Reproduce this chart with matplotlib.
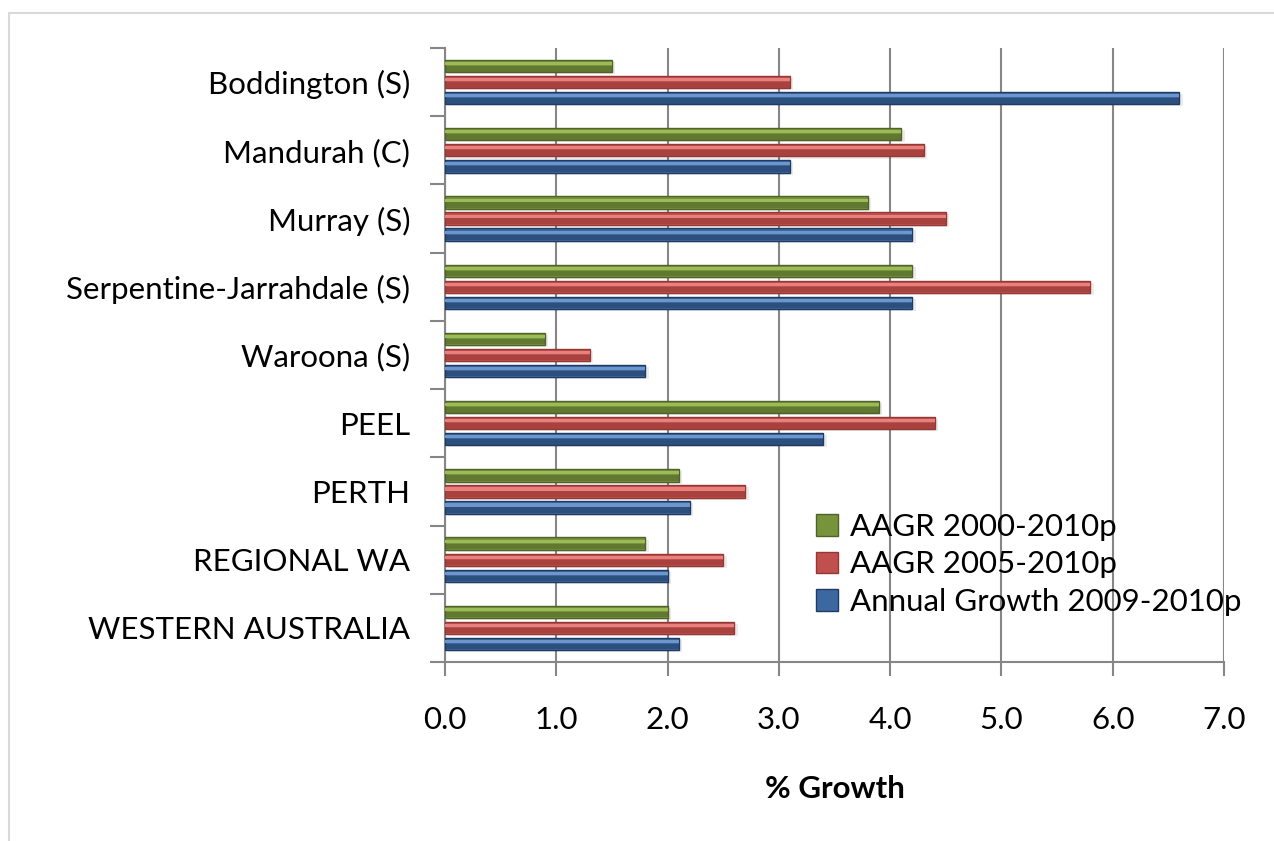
import matplotlib
matplotlib.use('Agg')
import matplotlib.pyplot as plt
import numpy as np
from matplotlib.patches import Rectangle

# data
regions = ['Boddington (S)', 'Mandurah (C)', 'Murray (S)', 'Serpentine-Jarrahdale (S)',
           'Waroona (S)', 'PEEL', 'PERTH', 'REGIONAL WA', 'WESTERN AUSTRALIA']
aagr_2000_2010 = [1.5, 4.1, 3.8, 4.2, 0.9, 3.9, 2.1, 1.8, 2.0]
aagr_2005_2010 = [3.1, 4.3, 4.5, 5.8, 1.3, 4.4, 2.7, 2.5, 2.6]
annual_2009_2010 = [6.6, 3.1, 4.2, 4.2, 1.8, 3.4, 2.2, 2.0, 2.1]
series_names = ['AAGR 2000-2010p', 'AAGR 2005-2010p', 'Annual Growth 2009-2010p']
xticks = [0, 1, 2, 3, 4, 5, 6, 7]

# dark / light shades for the bevel look
dark = ['#4f6228', '#953735', '#1f3b63']
mid = ['#77933c', '#c0504d', '#3d689f']
light = ['#9bbb59', '#e8807d', '#6d97cc']

plt.rcParams['font.family'] = ['Lato', 'DejaVu Sans']
fs = 22.5

fig = plt.figure(figsize=(12.74, 8.41), dpi=100)
ax = fig.add_axes([445 / 1274, 1 - 662 / 841, 779 / 1274, 614 / 841])

# light chart-area border (cut off at right/bottom in the original)
fig.patches.append(Rectangle((9 / 1274, -0.1), 1.2, 1 - 13 / 841 + 0.1,
                             transform=fig.transFigure, fill=False,
                             edgecolor='#d9d9d9', lw=1.5))

y = np.arange(len(regions))
step = 0.235
h = 0.18
all_series = [aagr_2000_2010, aagr_2005_2010, annual_2009_2010]
handles = []
for i, vals in enumerate(all_series):
    pos = y + (i - 1) * step
    # soft shadow
    ax.barh(pos + 0.03, vals, height=h, left=0.03, color='#000000', alpha=0.08, zorder=2)
    b = ax.barh(pos, vals, height=h, color=mid[i], edgecolor=dark[i], lw=1.0, zorder=3)
    ax.barh(pos + h * 0.22, vals, height=h * 0.45, color=dark[i], lw=0, alpha=0.55, zorder=4)
    ax.barh(pos - h * 0.2, vals, height=h * 0.25, color=light[i], lw=0, zorder=4)
    handles.append(b)

ax.set_xlim(0, 7)
ax.set_ylim(len(regions) - 0.5, -0.5)

ax.set_xticks(xticks)
ax.set_xticklabels(['%.1f' % t for t in xticks], fontsize=fs)
ax.tick_params(axis='x', length=10, width=1.5, color='#868686', pad=22)
ax.set_yticks(y)
ax.set_yticklabels(regions, fontsize=fs)
ax.set_yticks(np.arange(len(regions) + 1) - 0.5, minor=True)
ax.tick_params(axis='y', which='major', length=0, pad=25)
ax.tick_params(axis='y', which='minor', length=11, width=1.5, color='#868686')

ax.grid(axis='x', color='#868686', lw=1.5, zorder=0)
ax.set_axisbelow(True)
for s in ['top', 'right']:
    ax.spines[s].set_visible(False)
for s in ['left', 'bottom']:
    ax.spines[s].set_color('#868686')
    ax.spines[s].set_linewidth(1.5)

ax.set_xlabel('% Growth', fontsize=fs, fontweight='bold', labelpad=29)

leg = ax.legend(handles, series_names, loc='upper left', bbox_to_anchor=(0.46, 0.263),
                frameon=False, fontsize=fs, handlelength=0.7, handleheight=0.7,
                handletextpad=0.4, labelspacing=0.3, borderaxespad=0)

fig.savefig('out.png', dpi=100, facecolor='white')
